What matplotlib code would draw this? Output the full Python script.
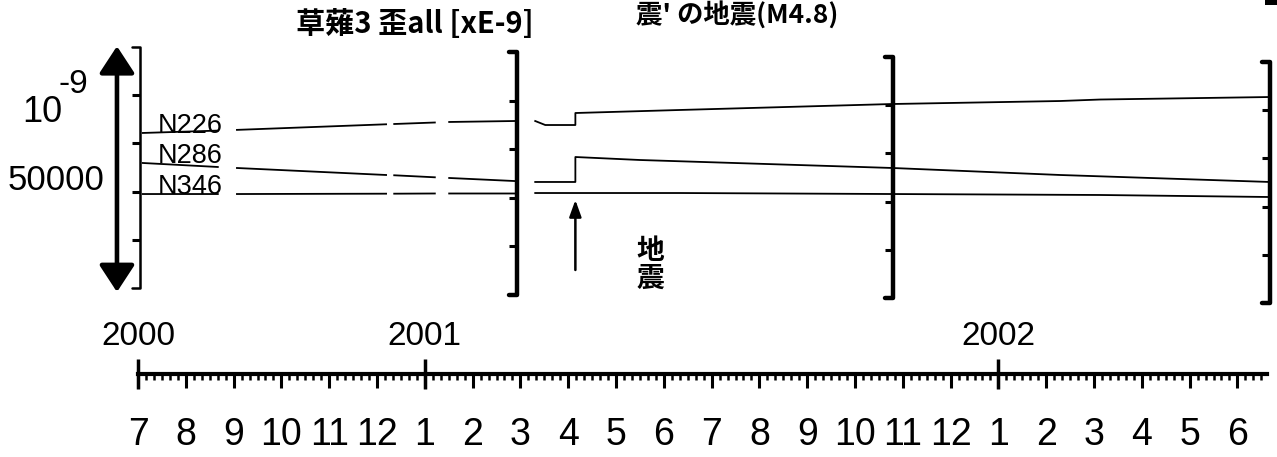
import numpy as np
import matplotlib.pyplot as plt
from matplotlib import font_manager
from matplotlib.patches import ArrowStyle, Rectangle

W, H = 1277, 457

# x: months counted from 2000-07-01, y: strain in units of 1e-9
months_a = [0.10, 1.67, np.nan, 2.07, 5.19, np.nan, 5.36, 6.21, np.nan, 6.51, 7.87]
n226_a = [33000, 33490, np.nan, 33640, 34800, np.nan, 34860, 35170, np.nan, 35280, 35480]
n286_a = [26770, 25940, np.nan, 25730, 24280, np.nan, 24220, 23800, np.nan, 23660, 23030]
n346_a = [20330, 20330, np.nan, 20330, 20400, np.nan, 20400, 20440, np.nan, 20440, 20440]

n226_b_m = [8.31, 8.52, 9.15, 9.15, 11.34, 15.79, 19.29, 20.13, 23.68]
n226_b = [35480, 34650, 34650, 37140, 37770, 39010, 39630, 39940, 40460]
n286_b_m = [8.31, 9.15, 9.15, 10.50, 15.79, 19.29, 23.68]
n286_b = [22830, 22830, 28010, 27390, 25730, 24280, 22830]
n346_b_m = [8.31, 11.34, 15.79, 20.13, 23.68]
n346_b = [20540, 20540, 20330, 20130, 19710]

station_names = ['N226', 'N286', 'N346']

quake_month = 9.15
quake_arrow = [4570, 19090]

scale_bar = [0, 51000]
scale_bar_month = -0.44

bracket_m = [0.04, 7.93, 15.79, 23.68]
bracket_lo = [830, -620, -1250, -2280]
bracket_hi = [50840, 49800, 48760, 47730]

month_labels = ['7', '8', '9', '10', '11', '12', '1', '2', '3', '4', '5', '6',
                '7', '8', '9', '10', '11', '12', '1', '2', '3', '4', '5', '6']
year_labels = ['2000', '2001', '2002']
year_months = [0, 6, 18]

avail = {f.name for f in font_manager.fontManager.ttflist}
narrow = 'Liberation Sans Narrow' if 'Liberation Sans Narrow' in avail else 'Liberation Sans'
plt.rcParams['font.family'] = ['Liberation Sans', 'Noto Sans CJK JP']
cjk = ['Noto Sans CJK JP', 'DejaVu Sans']

PX_MONTH = 47.8      # pixels per month
PX_STRAIN = 207.5    # strain units per pixel
X0, Y0 = 138, 292    # pixel of month 0 / strain 0


def fx(x):
    return x / W


def fy(y):
    return 1 - y / H


fig = plt.figure(figsize=(W / 100, H / 100), dpi=100)

# strain panel, whole figure, month / strain data units
ax = fig.add_axes([0, 0, 1, 1])
ax.set_xlim(-X0 / PX_MONTH, (W - X0) / PX_MONTH)
ax.set_ylim((Y0 - H) * PX_STRAIN, Y0 * PX_STRAIN)
ax.axis('off')

series = [(n226_a, n226_b_m, n226_b), (n286_a, n286_b_m, n286_b), (n346_a, n346_b_m, n346_b)]
for name, (va, bm, bv) in zip(station_names, series):
    ax.plot(months_a, va, color='k', lw=1.3)
    ax.plot(bm, bv, color='k', lw=1.3)
    ax.text(1.09, va[0], name, ha='center', va='baseline', fontsize=19.5, family=narrow)

# bracket frames of the pasted panels
hook = 0.17
for m, lo, hi, lw in zip(bracket_m, bracket_lo, bracket_hi, [1.8, 3.2, 3.2, 3.2]):
    ax.plot([m - hook, m, m, m - hook], [hi, hi, lo, lo], color='k', lw=lw,
            solid_joinstyle='round', solid_capstyle='round')
    ax.hlines(np.linspace(lo, hi, 6)[1:-1], m - hook, m, color='k', lw=2.2)

# scale bar
ax.annotate('', xy=(scale_bar_month, scale_bar[1]), xytext=(scale_bar_month, scale_bar[0]),
            arrowprops=dict(arrowstyle=ArrowStyle('<|-|>', head_length=0.55, head_width=0.36),
                            mutation_scale=30, lw=3.3, color='k', shrinkA=0, shrinkB=0))

# earthquake marker
ax.annotate('', xy=(quake_month, quake_arrow[1]), xytext=(quake_month, quake_arrow[0]),
            arrowprops=dict(arrowstyle=ArrowStyle('-|>', head_length=0.5, head_width=0.18),
                            mutation_scale=20, lw=1.8, color='k', shrinkA=0, shrinkB=0))

fig.text(fx(42), fy(122), '10', ha='center', va='baseline', fontsize=26)
fig.text(fx(73), fy(93), '-9', ha='center', va='baseline', fontsize=24)
fig.text(fx(56), fy(190), '50000', ha='center', va='baseline', fontsize=25)

fig.text(fx(415), fy(24), '草薙3 歪all [xE-9]', ha='center', va='center',
         fontsize=21, fontweight='bold', family=cjk)
fig.text(fx(636), fy(15), "震' の地震(M4.8)", ha='left', va='center',
         fontsize=19, fontweight='bold', family=cjk)
fig.text(fx(650), fy(265), '地\n震', ha='center', va='center', fontsize=20,
         fontweight='bold', linespacing=1.0, family=cjk)

# scan speck in the top right corner
fig.patches.append(Rectangle((fx(1265), fy(5)), 12 / W, 5 / H, transform=fig.transFigure,
                             facecolor='k', edgecolor='none'))

# time ruler
axr = fig.add_axes([fx(X0), fy(374), (1267 - X0) / W, 0.0005])
axr.set_xlim(0, (1267 - X0) / PX_MONTH)
axr.set_ylim(0, 1)
for s in ['left', 'right', 'top']:
    axr.spines[s].set_visible(False)
axr.spines['bottom'].set_linewidth(3)
axr.set_yticks([])
axr.set_xticks(np.arange(len(month_labels)))
axr.set_xticklabels(month_labels)
minor = np.arange(0, (1267 - X0) / PX_MONTH, 1 / 6)
axr.set_xticks(minor[np.abs(minor - np.round(minor)) > 1e-6], minor=True)
axr.tick_params(axis='x', which='major', direction='out', length=10, width=2.2,
                pad=21, labelsize=27)
axr.tick_params(axis='x', which='minor', direction='out', length=4.5, width=1.8)

axy = axr.twiny()
axy.set_xlim(axr.get_xlim())
axy.set_xticks(year_months)
axy.set_xticklabels(year_labels)
axy.tick_params(axis='x', which='major', top=True, bottom=True, labeltop=True,
                labelbottom=False, direction='out', length=11, width=2.5, pad=5, labelsize=24)
for s in axy.spines.values():
    s.set_visible(False)

fig.savefig('out.png', dpi=100)
